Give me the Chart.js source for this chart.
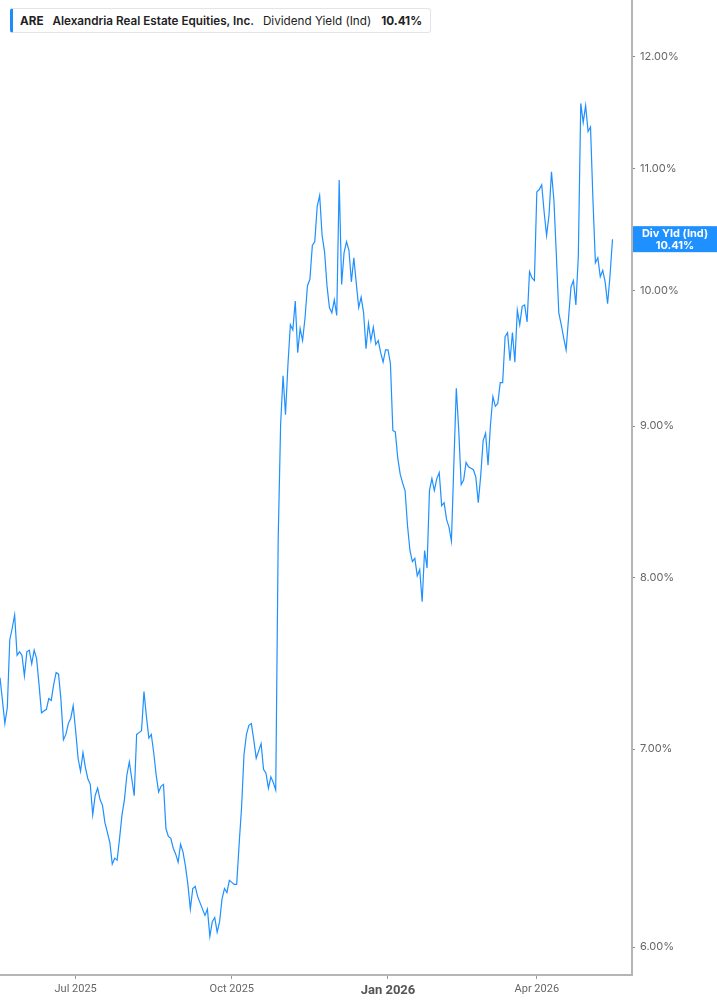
<!DOCTYPE html>
<html>
<head>
<meta charset="utf-8">
<script src="https://cdn.jsdelivr.net/npm/chart.js@4.4.1/dist/chart.umd.min.js"></script>
<style>
  html, body { margin: 0; padding: 0; background: #fff; }
  #wrap { position: relative; width: 717px; height: 1005px; }
  #legendBox {
    position: absolute; left: 10px; top: 8px; height: 25px;
    box-sizing: border-box; padding: 0 8px 0 7px;
    border: 1px solid #e4e4e4; border-left: 3px solid #1a8cff; border-radius: 3px;
    background: #fff; font-family: Inter, "Noto Sans", sans-serif; font-size: 11.7px;
    color: #222; display: flex; align-items: center; white-space: nowrap;
  }
  #legendBox b { font-weight: 700; }
  #legendBox .nm { font-weight: 600; margin-left: 9px; }
  #legendBox .fld { font-weight: 400; margin-left: 9px; }
  #legendBox .val { font-weight: 700; margin-left: 10px; }
</style>
</head>
<body>
<div id="wrap">
  <canvas id="chartYield" width="717" height="1005"></canvas>
  <div id="legendBox"></div>
</div>
<script>
/* ARE - rendimiento por dividendo (indicado), escala logarítmica */

const ticker = "ARE";
const companyName = "Alexandria Real Estate Equities, Inc.";
const fieldName = "Dividend Yield (Ind)";
const badgeName = "Div Yld (Ind)";

// ticks del eje x: índice de sesión bursátil y texto
const xTickIdx = [31, 95, 159, 220];
const xTickText = ["Jul 2025", "Oct 2025", "Jan 2026", "Apr 2026"];
const yTicks = [6, 7, 8, 9, 10, 11, 12];

// rendimiento diario en %, una cifra por sesión (may 2025 - may 2026)
const yieldPct = [
  7.40, 7.27, 7.14, 7.23, 7.62, 7.69, 7.77, 7.53, 7.55, 7.53,
  7.41, 7.55, 7.56, 7.48, 7.56, 7.51, 7.36, 7.20, 7.21, 7.22,
  7.28, 7.27, 7.36, 7.43, 7.42, 7.27, 7.05, 7.08, 7.14, 7.17,
  7.24, 7.10, 6.95, 6.88, 6.98, 6.90, 6.84, 6.81, 6.65, 6.75,
  6.79, 6.73, 6.70, 6.61, 6.56, 6.51, 6.40, 6.43, 6.42, 6.53,
  6.65, 6.73, 6.86, 6.93, 6.84, 6.75, 7.08, 7.09, 7.10, 7.32,
  7.18, 7.06, 7.08, 6.98, 6.86, 6.77, 6.80, 6.81, 6.58, 6.54,
  6.53, 6.48, 6.45, 6.41, 6.50, 6.46, 6.39, 6.30, 6.18, 6.28,
  6.29, 6.24, 6.21, 6.18, 6.15, 6.18, 6.05, 6.12, 6.14, 6.07,
  6.12, 6.23, 6.28, 6.26, 6.32, 6.31, 6.30, 6.30, 6.50, 6.69,
  6.97, 7.08, 7.13, 7.14, 7.05, 6.95, 6.99, 7.03, 6.89, 6.87,
  6.79, 6.85, 6.82, 6.78, 8.24, 9.01, 9.36, 9.08, 9.44, 9.74,
  9.70, 9.92, 9.53, 9.71, 9.62, 9.79, 10.04, 10.09, 10.36, 10.39,
  10.68, 10.77, 10.44, 10.31, 10.04, 9.87, 9.83, 9.93, 9.81, 10.90,
  10.05, 10.30, 10.39, 10.32, 10.07, 10.26, 10.06, 9.87, 9.95, 9.83,
  9.56, 9.75, 9.62, 9.72, 9.59, 9.62, 9.53, 9.46, 9.55, 9.55,
  9.45, 8.97, 8.96, 8.78, 8.67, 8.61, 8.56, 8.33, 8.17, 8.10,
  8.12, 8.01, 8.05, 7.85, 8.17, 8.06, 8.56, 8.64, 8.56, 8.64,
  8.68, 8.46, 8.48, 8.37, 8.32, 8.23, 8.74, 9.27, 8.97, 8.60,
  8.63, 8.75, 8.72, 8.71, 8.70, 8.65, 8.48, 8.66, 8.90, 8.95,
  8.73, 9.01, 9.21, 9.14, 9.16, 9.31, 9.31, 9.65, 9.68, 9.47,
  9.68, 9.46, 9.85, 9.74, 9.88, 9.89, 9.76, 10.15, 10.10, 10.08,
  10.80, 10.82, 10.86, 10.63, 10.44, 10.61, 10.97, 10.73, 10.28, 9.83,
  9.74, 9.64, 9.55, 9.79, 10.03, 10.08, 9.89, 10.27, 11.57, 11.40,
  11.55, 11.32, 11.36, 10.73, 10.22, 10.26, 10.11, 10.16, 10.07, 9.90,
  10.12, 10.41
];

const lineColor = "#1e90ff";
const lastVal = yieldPct[yieldPct.length - 1];

document.getElementById("legendBox").innerHTML =
  `<b>${ticker}</b><span class="nm">${companyName}</span>` +
  `<span class="fld">${fieldName}</span><span class="val">${lastVal.toFixed(2)}%</span>`;

/** Etiqueta azul del último valor sobre el eje derecho. */
const lastBadge = {
  id: "lastBadge",
  afterDraw(chart) {
    const { ctx, chartArea } = chart;
    const py = chart.scales.y.getPixelForValue(lastVal);
    const left = chartArea.right + 1;
    const cx = (left + chart.width) / 2;
    ctx.save();
    ctx.fillStyle = lineColor;
    ctx.fillRect(left, py - 13, chart.width - left, 26);
    ctx.fillStyle = "#fff";
    ctx.font = "bold 11px Inter, 'Noto Sans', sans-serif";
    ctx.textAlign = "center";
    ctx.textBaseline = "middle";
    ctx.fillText(badgeName, cx, py - 5.5);
    ctx.fillText(`${lastVal.toFixed(2)}%`, cx, py + 6.5);
    ctx.restore();
  },
};

const axisGray = "#b5b5b5";

// sin márgenes extra: el área de trazado llega al borde superior e izquierdo
const noPad = (s) => { s.paddingTop = 0; s.paddingBottom = 0; s.paddingLeft = 0; s.paddingRight = 0; };

new Chart(document.getElementById("chartYield"), {
  type: "line",
  data: {
    datasets: [{
      data: yieldPct.map((v, i) => ({ x: i, y: v })),
      borderColor: lineColor,
      borderWidth: 1.2,
      pointRadius: 0,
      tension: 0,
      fill: false,
    }],
  },
  options: {
    responsive: false,
    animation: false,
    devicePixelRatio: 1,
    layout: { padding: 0 },
    plugins: {
      legend: { display: false },
      tooltip: { enabled: false },
    },
    scales: {
      x: {
        type: "linear",
        min: 0,
        max: 259,
        afterBuildTicks: (s) => { s.ticks = xTickIdx.map((v) => ({ value: v })); },
        afterFit: (s) => { s.height = 30; noPad(s); },
        border: { display: true, color: axisGray, width: 2 },
        grid: { display: true, drawOnChartArea: false, drawTicks: true, tickLength: 4, color: "#999" },
        ticks: {
          autoSkip: false,
          maxRotation: 0,
          padding: 4,
          callback: (v) => xTickText[xTickIdx.indexOf(v)],
          font: (c) => (c.tick && c.tick.label === "Jan 2026")
            ? { family: "Roboto", size: 13, weight: "bold" }
            : { family: "Roboto", size: 11 },
          color: (c) => (c.tick && c.tick.label === "Jan 2026") ? "#555" : "#666",
        },
      },
      y: {
        type: "logarithmic",
        position: "right",
        min: 5.871,
        max: 12.54,
        afterBuildTicks: (s) => { s.ticks = yTicks.map((v) => ({ value: v })); },
        afterFit: (s) => { s.width = 85; noPad(s); },
        border: { display: true, color: axisGray, width: 2 },
        grid: { display: true, drawOnChartArea: false, drawTicks: true, tickLength: 3, color: "#888" },
        ticks: {
          padding: 5,
          callback: (v) => `${Number(v).toFixed(2)}%`,
          font: { family: "Inter", size: 11 },
          color: "#666",
        },
      },
    },
  },
  plugins: [lastBadge],
});
</script>
</body>
</html>
